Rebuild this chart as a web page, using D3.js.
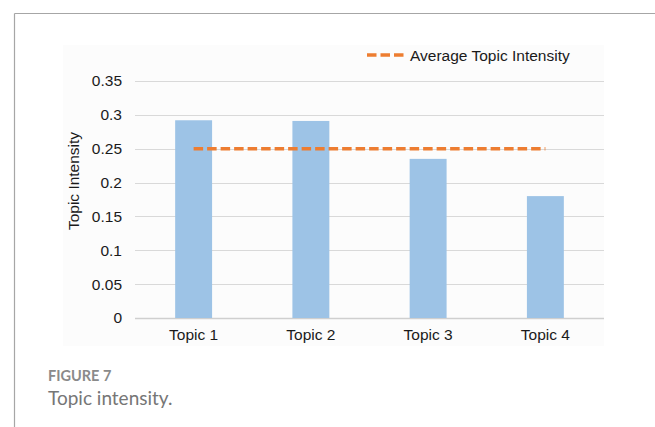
<!DOCTYPE html>
<html>
<head>
<meta charset="utf-8">
<script src="https://cdn.jsdelivr.net/npm/d3@7"></script>
<style>
  html, body { margin: 0; padding: 0; background: #fff; }
  svg { display: block; }
</style>
</head>
<body>
<svg id="chart" width="655" height="427"></svg>
<script>
// Topic intensity per topic, with the overall average drawn as a dashed line
const topics = ["Topic 1", "Topic 2", "Topic 3", "Topic 4"];
const intensity = [0.292, 0.291, 0.235, 0.180];
const averageIntensity = [0.25, 0.25, 0.25, 0.25];
const yTicks = [0, 0.05, 0.1, 0.15, 0.2, 0.25, 0.3, 0.35];
const yTickLabels = ["0", "0.05", "0.1", "0.15", "0.2", "0.25", "0.3", "0.35"];
const legendLabel = "Average Topic Intensity";
const yTitle = "Topic Intensity";
const figureLabel = "FIGURE 7";
const figureCaption = "Topic intensity.";

const svg = d3.select("#chart");
const W = 655, H = 427;
const plot = { left: 135, right: 604, top: 81, bottom: 318 };
const chartFont = "'Liberation Sans', Arial, sans-serif";
const chartFontSize = 15.5;

// outer frame (top and left rules)
svg.append("line").attr("x1", 14.5).attr("x2", W).attr("y1", 13.5).attr("y2", 13.5)
  .attr("stroke", "#a6a6a6").attr("stroke-width", 1.2);
svg.append("line").attr("x1", 14.5).attr("x2", 14.5).attr("y1", 13.5).attr("y2", H)
  .attr("stroke", "#a6a6a6").attr("stroke-width", 1.2);

// faint chart area
svg.append("rect").attr("x", 63).attr("y", 45).attr("width", 541).attr("height", 301)
  .attr("fill", "#fcfcfc");

const x = d3.scaleBand().domain(topics).range([plot.left, plot.right]).padding(0);
const y = d3.scaleLinear().domain([0, 0.35]).range([plot.bottom, plot.top]);
const barFrac = 0.315;
const barW = x.bandwidth() * barFrac;

// horizontal gridlines
svg.append("g").selectAll("line").data(yTicks).join("line")
  .attr("x1", plot.left).attr("x2", plot.right)
  .attr("y1", d => Math.round(y(d)) + 0.5).attr("y2", d => Math.round(y(d)) + 0.5)
  .attr("stroke", d => d === 0 ? "#cfcfcf" : "#d9d9d9").attr("stroke-width", d => d === 0 ? 1.3 : 1);

// y axis labels
const yAxis = d3.axisLeft(y).tickValues(yTicks)
  .tickFormat((d, i) => yTickLabels[i]).tickSize(0).tickPadding(13);
const gy = svg.append("g").attr("transform", `translate(${plot.left},0)`).call(yAxis);
gy.select(".domain").remove();
gy.attr("font-size", null);
gy.selectAll("text").attr("font-family", chartFont).attr("font-size", chartFontSize).attr("fill", "#1a1a1a");

// x axis labels
const xAxis = d3.axisBottom(x).tickSize(0).tickPadding(11);
const gx = svg.append("g").attr("transform", `translate(0,${plot.bottom})`).call(xAxis);
gx.select(".domain").remove();
gx.attr("font-size", null);
gx.selectAll("text").attr("font-family", chartFont).attr("font-size", chartFontSize).attr("fill", "#1a1a1a");

// bars
svg.append("g").selectAll("rect").data(intensity).join("rect")
  .attr("x", (d, i) => x(topics[i]) + (x.bandwidth() - barW) / 2)
  .attr("width", barW)
  .attr("y", d => y(d))
  .attr("height", d => y(0) - y(d))
  .attr("fill", "#9dc3e6");

// average line
const avgLine = d3.line()
  .x((d, i) => x(topics[i]) + x.bandwidth() / 2)
  .y(d => y(d));
svg.append("path").datum(averageIntensity)
  .attr("d", avgLine)
  .attr("fill", "none").attr("stroke", "#ed7d31")
  .attr("stroke-width", 3.5).attr("stroke-dasharray", "9.5,4");

// legend
svg.append("line").attr("x1", 367).attr("x2", 406).attr("y1", 55).attr("y2", 55)
  .attr("stroke", "#ed7d31").attr("stroke-width", 3.5).attr("stroke-dasharray", "9.5,4");
svg.append("text").attr("x", 410).attr("y", 60.5)
  .attr("font-family", chartFont).attr("font-size", chartFontSize).attr("fill", "#1a1a1a")
  .text(legendLabel);

// y axis title
svg.append("text")
  .attr("transform", `translate(79,181) rotate(-90)`)
  .attr("text-anchor", "middle")
  .attr("font-family", chartFont).attr("font-size", chartFontSize).attr("fill", "#1a1a1a")
  .text(yTitle);

// figure caption
svg.append("text").attr("x", 48).attr("y", 381)
  .attr("font-family", "Lato, 'Open Sans', sans-serif").attr("font-size", 14.5)
  .attr("font-weight", 700).attr("fill", "#8a8a8a")
  .text(figureLabel);
svg.append("text").attr("x", 48).attr("y", 405)
  .attr("font-family", "Lato, 'Open Sans', sans-serif").attr("font-size", 19)
  .attr("fill", "#767676")
  .text(figureCaption);
</script>
</body>
</html>
